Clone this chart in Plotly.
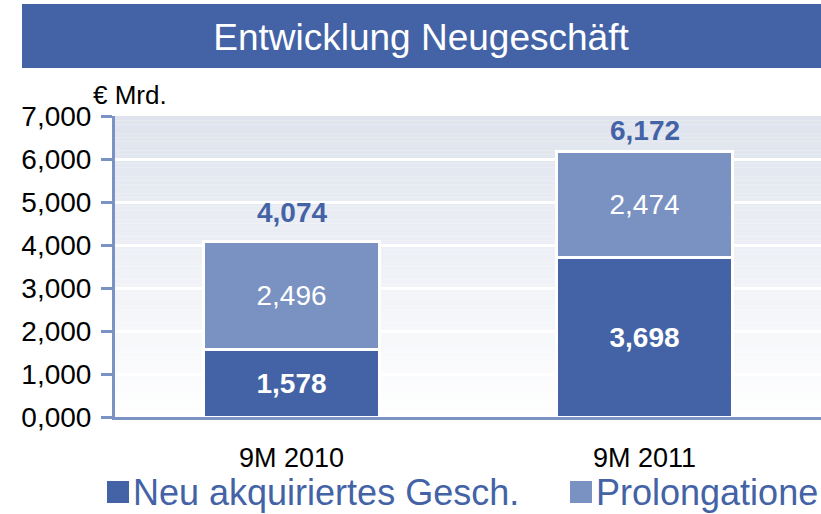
import plotly.graph_objects as go

# ---- data ----
categories = ["9M 2010", "9M 2011"]
series_names = ["Neu akquiriertes Gesch.", "Prolongatione"]
neu_values = [1.578, 3.698]
prolong_values = [2.496, 2.474]
y_tick_values = [0, 1, 2, 3, 4, 5, 6, 7]
title_text = "Entwicklung Neugeschäft"
unit_text = "€ Mrd."

# ---- style ----
DARK = "#4363a6"
LIGHT = "#7a92c2"
AXIS = "#7b93c4"
FONT = "Liberation Sans, Arial, sans-serif"

W, H = 821, 514
L, R, T, B = 115, 0, 116, 97
PW = W - L - R
PH = H - T - B


def px_x(px):
    return (px - L) / PW


def px_y(py):
    return (H - B - py) / PH


fig = go.Figure()

fig.add_trace(go.Bar(
    x=categories, y=neu_values, name=series_names[0],
    marker=dict(color=DARK, line=dict(color="white", width=3)),
    texttemplate="%{y:.3f}", textposition="inside", insidetextanchor="middle",
    textangle=0, constraintext="none",
    textfont=dict(family=FONT, size=28, color="white", weight="bold"),
    showlegend=False, hoverinfo="skip",
))
fig.add_trace(go.Bar(
    x=categories, y=prolong_values, name=series_names[1],
    marker=dict(color=LIGHT, line=dict(color="white", width=3)),
    texttemplate="%{y:.3f}", textposition="inside", insidetextanchor="middle",
    textangle=0, constraintext="none",
    textfont=dict(family=FONT, size=28, color="white"),
    showlegend=False, hoverinfo="skip",
))

totals = [a + b for a, b in zip(neu_values, prolong_values)]
total_shifts = [29, 21]
annotations = []
for cat, tot, sh in zip(categories, totals, total_shifts):
    annotations.append(dict(
        x=cat, y=tot, xref="x", yref="y", yanchor="middle", yshift=sh,
        text=f"{tot:.3f}".replace(".", ","), showarrow=False,
        font=dict(family=FONT, size=28, color=DARK, weight="bold"),
    ))

# unit label
annotations.append(dict(
    x=px_x(130), y=px_y(95), xref="paper", yref="paper",
    xanchor="center", yanchor="middle", text=unit_text, showarrow=False,
    font=dict(family=FONT, size=26, color="black"),
))

shapes = []
# gradient background of the plot area (bands)
top_rgb = (0xde, 0xe3, 0xed)
n_bands = 70
ymax = max(y_tick_values)
for i in range(n_bands):
    f = (i + 0.5) / n_bands
    c = tuple(int(round(255 + (t - 255) * f)) for t in top_rgb)
    shapes.append(dict(
        type="rect", xref="paper", yref="y", x0=0, x1=1,
        y0=ymax * i / n_bands, y1=ymax * (i + 1) / n_bands,
        fillcolor="rgb(%d,%d,%d)" % c, line=dict(width=0), layer="below",
    ))

# title bar
shapes.append(dict(
    type="rect", xref="paper", yref="paper",
    x0=px_x(22), x1=px_x(W + 2), y0=px_y(68), y1=px_y(4),
    fillcolor=DARK, line=dict(width=0), layer="above",
))

# custom legend (large square markers)
legend_colors = [DARK, LIGHT]
legend_marker_x = [107, 570]
for name, col, mx in zip(series_names, legend_colors, legend_marker_x):
    shapes.append(dict(
        type="rect", xref="paper", yref="paper",
        x0=px_x(mx), x1=px_x(mx + 22), y0=px_y(503), y1=px_y(481),
        fillcolor=col, line=dict(width=0), layer="above",
    ))
    annotations.append(dict(
        x=px_x(mx + 24), y=px_y(492), xref="paper", yref="paper",
        xanchor="left", yanchor="middle", text=name, showarrow=False,
        font=dict(family=FONT, size=36, color=DARK),
    ))

fig.update_layout(
    width=W, height=H,
    margin=dict(l=L, r=R, t=T, b=B, pad=0),
    paper_bgcolor="white", plot_bgcolor="white",
    barmode="stack", bargap=0.5,
    separators=",.",
    font=dict(family=FONT, color="black"),
    title=dict(
        text=title_text, x=421 / W, xanchor="center",
        y=1 - 37 / H, yanchor="middle", yref="container",
        font=dict(family=FONT, size=37, color="white"),
    ),
    shapes=shapes,
    annotations=annotations,
    showlegend=False,
)

fig.update_xaxes(
    type="category", range=[-0.5, 1.5],
    showline=True, linecolor=AXIS, linewidth=3,
    ticks="", showgrid=False, zeroline=False,
    tickfont=dict(family=FONT, size=27, color="black"),
    ticklabelstandoff=15,
)
fig.update_yaxes(
    range=[0, ymax], tickvals=y_tick_values, tickformat=".3f",
    showline=True, linecolor=AXIS, linewidth=3,
    ticks="outside", ticklen=11, tickwidth=3, tickcolor=AXIS,
    showgrid=True, gridcolor="white", gridwidth=3, zeroline=False,
    tickfont=dict(family=FONT, size=28, color="black"),
    ticklabelstandoff=4,
)

fig.write_html(
    "out.html",
    config={"displayModeBar": False, "staticPlot": True},
    post_script="document.body.style.margin='0';document.body.style.padding='0';",
)
